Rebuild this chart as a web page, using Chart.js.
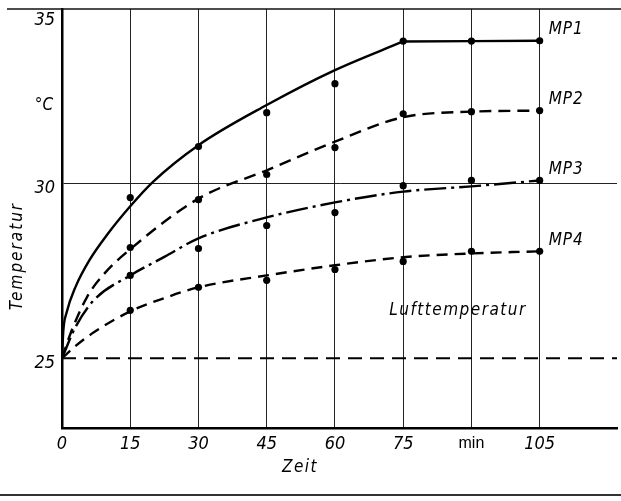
<!DOCTYPE html>
<html>
<head>
<meta charset="utf-8">
<script src="https://cdn.jsdelivr.net/npm/chart.js@4/dist/chart.umd.min.js"></script>
<style>
  html, body { margin: 0; padding: 0; background: #fff; }
  #c { display: block; }
</style>
</head>
<body>
<canvas id="c" width="621" height="501"></canvas>
<script>
// ---- data ----
const xTicks = [0, 15, 30, 45, 60, 75, 90, 105];
const xTickLabels = ['0', '15', '30', '45', '60', '75', 'min', '105'];
const yTicks = [25, 30, 35];

// measured points (dots)
const measTimes = [15, 30, 45, 60, 75, 90, 105];
const mp1Meas = [29.6, 31.06, 32.03, 32.86, 34.08, 34.08, 34.09];
const mp2Meas = [28.17, 29.54, 30.26, 31.03, 32.0, 32.06, 32.09];
const mp3Meas = [27.37, 28.14, 28.8, 29.17, 29.94, 30.09, 30.09];
const mp4Meas = [26.37, 27.03, 27.23, 27.54, 27.77, 28.06, 28.06];

// fitted curves (MP1 rises until 75 min, then stays level)
const mp1CurveX = [0, 0.3, 1, 3, 6, 10, 15, 20, 30, 45, 60, 75];
const mp1CurveY = [25.0, 25.8, 26.3, 27.05, 27.8, 28.55, 29.35, 30.05, 31.1, 32.25, 33.25, 34.07];
const mp1TailX = [75, 90, 105];
const mp1TailY = [34.07, 34.08, 34.09];
const mp2CurveX = [0, 2, 5.5, 9.5, 15, 30, 45, 60, 75, 90, 105];
const mp2CurveY = [25.0, 25.75, 26.75, 27.45, 28.12, 29.57, 30.38, 31.2, 31.9, 32.06, 32.09];
const mp3CurveX = [0, 3, 7, 15, 22.5, 30, 45, 60, 75, 90, 105];
const mp3CurveY = [25.0, 25.9, 26.66, 27.37, 27.9, 28.43, 29.03, 29.46, 29.77, 29.92, 30.09];
const mp4CurveX = [0, 3, 7, 15, 22.5, 30, 45, 60, 75, 90, 105];
const mp4CurveY = [25.0, 25.35, 25.74, 26.34, 26.72, 27.03, 27.37, 27.66, 27.89, 28.0, 28.06];

const airX = [0, 122];
const airY = [25, 25];

const seriesNames = ['MP1', 'MP2', 'MP3', 'MP4'];

// ---- helpers ----
const pts = (xs, ys) => xs.map((x, i) => ({ x: x, y: ys[i] }));
const ITAL = "'Liberation Sans Narrow', 'DejaVu Sans Condensed', 'Liberation Sans', sans-serif";

function curve(xs, ys, dash) {
  return {
    data: pts(xs, ys), showLine: true, borderColor: '#000', borderWidth: 2.4,
    borderDash: dash, pointRadius: 0, cubicInterpolationMode: 'monotone', fill: false
  };
}
function straight(xs, ys, dash, w) {
  return {
    data: pts(xs, ys), showLine: true, borderColor: '#000', borderWidth: w,
    borderDash: dash, pointRadius: 0, tension: 0, fill: false
  };
}
function dots(ys) {
  return {
    data: pts(measTimes, ys), showLine: false, pointRadius: 3.6,
    pointBackgroundColor: '#000', pointBorderColor: '#000', pointBorderWidth: 0
  };
}

const textPlugin = {
  id: 'texts',
  beforeDraw(chart) {
    const ctx = chart.ctx;
    ctx.save();
    ctx.fillStyle = '#fff';
    ctx.fillRect(0, 0, chart.width, chart.height);
    ctx.restore();
  },
  afterDraw(chart) {
    const ctx = chart.ctx;
    const xs = chart.scales.x, ys = chart.scales.y;
    const a = chart.chartArea;
    ctx.save();
    // frame lines
    ctx.strokeStyle = '#111';
    ctx.lineWidth = 1.5;
    ctx.beginPath();
    ctx.moveTo(7, a.top); ctx.lineTo(chart.width, a.top);
    ctx.stroke();
    ctx.strokeStyle = '#333';
    ctx.lineWidth = 2;
    ctx.beginPath();
    ctx.moveTo(0, 495); ctx.lineTo(chart.width, 495);
    ctx.stroke();

    ctx.fillStyle = '#000';
    ctx.textBaseline = 'middle';
    ctx.font = 'italic 17px ' + ITAL;
    try { ctx.letterSpacing = '1px'; } catch (e) {}
    // series labels at curve ends
    const ends = [mp1TailY, mp2CurveY, mp3CurveY, mp4CurveY];
    ends.forEach((arr, i) => {
      ctx.textAlign = 'left';
      ctx.fillText(seriesNames[i], xs.getPixelForValue(105) + 9, ys.getPixelForValue(arr[arr.length - 1]) - 11);
    });
    // air temperature label
    ctx.textAlign = 'center';
    try { ctx.letterSpacing = '1.5px'; } catch (e) {}
    ctx.fillText('Lufttemperatur', 458, 311);
    // axis titles
    ctx.fillText('Zeit', 300, 468);
    try { ctx.letterSpacing = '0px'; } catch (e) {}
    ctx.fillText('°C', 44, 106);
    ctx.save();
    ctx.translate(18, 256);
    ctx.rotate(-Math.PI / 2);
    try { ctx.letterSpacing = '2px'; } catch (e) {}
    ctx.fillText('Temperatur', 0, 0);
    ctx.restore();
    ctx.restore();
  }
};

new Chart(document.getElementById('c'), {
  type: 'scatter',
  data: {
    datasets: [
      curve(mp1CurveX, mp1CurveY, []),
      straight(mp1TailX, mp1TailY, [], 2.4),
      curve(mp2CurveX, mp2CurveY, [12, 7]),
      curve(mp3CurveX, mp3CurveY, [22, 5, 3, 5]),
      curve(mp4CurveX, mp4CurveY, [11, 7]),
      straight(airX, airY, [14, 8], 2),
      dots(mp1Meas), dots(mp2Meas), dots(mp3Meas), dots(mp4Meas)
    ]
  },
  options: {
    responsive: false,
    animation: false,
    layout: { padding: { left: 0, top: 9, right: 2, bottom: 0 } },
    plugins: { legend: { display: false }, tooltip: { enabled: false } },
    scales: {
      x: {
        type: 'linear', min: 0, max: 122,
        afterBuildTicks: (s) => { s.ticks = xTicks.map(v => ({ value: v })); },
        afterFit: (s) => { s.height = 73; s.paddingLeft = 0; s.paddingRight = 0; },
        ticks: {
          color: '#000', padding: 6, maxRotation: 0, autoSkip: false,
          callback: (v) => { const i = xTicks.indexOf(v); return i >= 0 ? xTickLabels[i] : ''; },
          font: (c) => (c.tick && c.tick.value === 90)
            ? { family: "'Liberation Sans', Arial, sans-serif", size: 16, style: 'normal' }
            : { family: ITAL, size: 18, style: 'italic' }
        },
        grid: {
          drawTicks: false,
          color: (c) => (c.tick && c.tick.value === 0) ? 'rgba(0,0,0,0)' : '#222',
          lineWidth: 1
        },
        border: { display: true, color: '#000', width: 2.5 }
      },
      y: {
        type: 'linear', min: 23, max: 35,
        afterBuildTicks: (s) => { s.ticks = yTicks.map(v => ({ value: v })); },
        afterFit: (s) => { s.width = 62; s.paddingTop = 0; s.paddingBottom = 0; },
        ticks: {
          color: '#000', padding: 7, labelOffset: 5,
          callback: (v) => (v === 35 ? ['', String(v)] : String(v)),
          font: (c) => ({
            family: ITAL, size: 18, style: 'italic',
            lineHeight: (c.tick && c.tick.value === 35) ? 0.7 : 1.2
          })
        },
        grid: {
          drawTicks: false,
          color: (c) => (c.tick && c.tick.value === 30) ? '#222' : 'rgba(0,0,0,0)',
          lineWidth: 1
        },
        border: { display: true, color: '#000', width: 2.5 }
      }
    }
  },
  plugins: [textPlugin]
});
</script>
</body>
</html>
